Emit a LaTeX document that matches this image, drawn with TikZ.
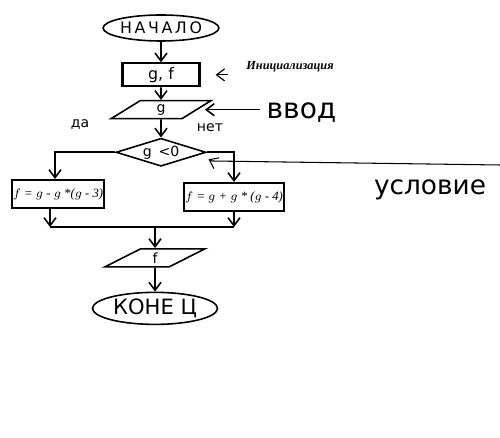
\documentclass[tikz,border=0pt]{standalone}
\usepackage{fontspec}
\setmainfont{DejaVu Sans}
\newfontfamily\formfont{Liberation Serif}
\usetikzlibrary{arrows.meta,positioning,shapes.geometric}

\begin{document}
\begin{tikzpicture}[
  line width=0.9pt,
  flow/.style={-{Straight Barb[length=1.6mm,width=2.4mm]}},
  term/.style={draw, ellipse, inner sep=0pt, font=\fontsize{10}{12}\selectfont},
  proc/.style={draw, rectangle, line width=1.2pt, inner sep=1pt},
  io/.style={draw, trapezium, trapezium left angle=60, trapezium right angle=120,
             trapezium stretches=true, minimum width=2cm, minimum height=0.36cm,
             inner sep=0pt, font=\footnotesize},
  cond/.style={draw, diamond, minimum width=1.8cm, minimum height=0.56cm,
               inner sep=0pt, aspect=3.3, font=\footnotesize},
  form/.style={proc, inner sep=0.5pt, font=\formfont\itshape\fontsize{7.2}{8}\selectfont},
  hand/.style={font=\fontsize{#1}{#1}\selectfont},
  node distance=0.4cm]

  \useasboundingbox (0,0) rectangle (10,-8.76);

  % main column
  \node[term, minimum width=1.9cm, minimum height=0.52cm, font=\fontsize{9}{10}\selectfont]
    (start) at (3.22,-0.56) {Н\kern1.5pt А\kern1.5pt Ч\kern1.5pt А\kern1.5pt Л\kern1.5pt О};
  \node[proc, minimum width=1.54cm, minimum height=0.46cm, font=\small,
        below=0.41cm of start] (init) {g, f};
  \node[io, below=0.25cm of init] (in) {g};
  \node[cond, below=0.36cm of in] (test) {g \,<0};

  % branches
  \node[form, minimum width=1.76cm, minimum height=0.56cm, anchor=north] (yes) at (1.16,-3.58)
    {$f$ = $g$ - $g$ *($g$ - 3)};
  \node[form, minimum width=1.84cm, minimum height=0.56cm, anchor=north] (no) at (4.68,-3.64)
    {$f$ = $g$ + $g$ * ($g$ - 4)};
  \coordinate (join) at (3.1,-4.54);

  \node[io, anchor=north] (out) at (3.1,-4.96) {f};
  \node[term, minimum width=2.5cm, minimum height=0.64cm, font=\fontsize{12}{14}\selectfont,
        below=0.48cm of out] (stop) {КОНЕ Ц};

  % notes
  \node[font=\formfont\bfseries\itshape\fontsize{7}{8}\selectfont] (initnote) at (5.8,-1.33) {Инициализация};
  \node[hand=16, anchor=west] (vvod) at (5.2,-2.26) {ввод};
  \node[hand=15] (uslov) at (8.6,-3.8) {условие};
  \coordinate (uslovline) at (10,-3.3);

  \node[font=\footnotesize] (da) at (1.6,-2.5) {да};
  \node[font=\footnotesize] (net) at (4.2,-2.56) {нет};

  % connectors
  \draw[flow] (start) -- (init);
  \draw[flow] (init) -- (in);
  \draw[flow] (in) -- (test);
  \draw[flow] (test.west) -| ([xshift=-0.06cm]yes.north);
  \draw[flow] (test.east) -| (no.north);
  \draw[flow] ([xshift=-0.16cm]yes.south) -- ([xshift=-0.16cm]yes.south |- join);
  \draw[flow] (no.south) -- (no.south |- join);
  \draw ([xshift=-0.16cm]yes.south |- join) -- (no.south |- join);
  \draw[flow] (out.north |- join) -- (out);
  \draw[flow] (out) -- (stop);

  \draw[flow] (vvod.west |- in.east) -- ([xshift=4pt]in.east);
  \draw[flow, line width=0.7pt] ([xshift=0.55cm]init.east) -- ([xshift=0.3cm]init.east);
  \draw[flow, line width=0.6pt] (uslovline) -- (4.24,-3.22) -- ([xshift=1pt,yshift=-4pt]test.east);
\end{tikzpicture}
\end{document}
